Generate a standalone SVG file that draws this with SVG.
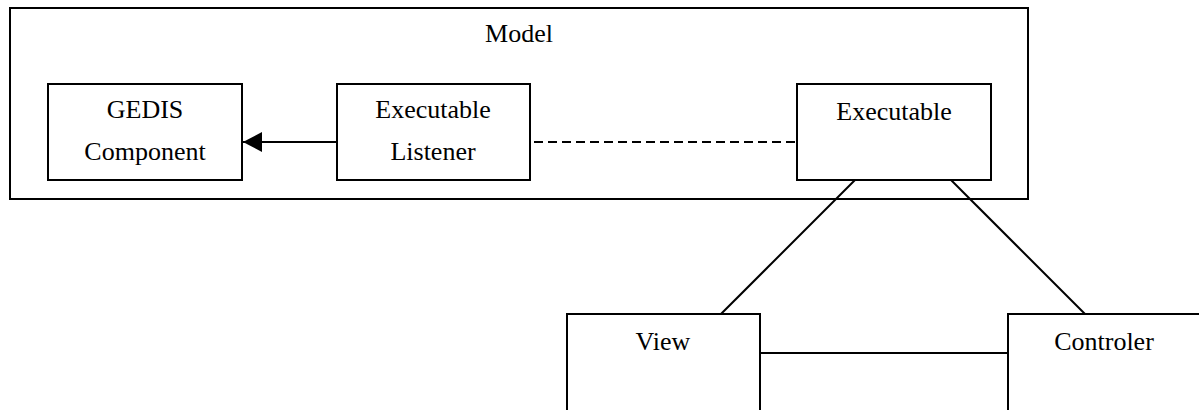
<svg xmlns="http://www.w3.org/2000/svg" width="1199" height="410" viewBox="0 0 1199 410">
  <style>
    .box { fill: #fff; stroke: #000; stroke-width: 2; }
    .frame { fill: none; stroke: #000; stroke-width: 2; }
    .lbl { font-family: "Liberation Serif", "Times New Roman", serif; font-size: 26px; fill: #000; text-anchor: middle; }
    .link { stroke: #000; stroke-width: 2; fill: none; }
    .dash { stroke-dasharray: 9 5; }
  </style>
  <defs>
    <marker id="arrow" markerWidth="20" markerHeight="20" refX="19" refY="10" orient="auto" markerUnits="userSpaceOnUse">
      <path d="M0,0 L19,10 L0,20 Z" fill="#000"/>
    </marker>
  </defs>

  <!-- Model package -->
  <g id="model">
    <rect class="frame" x="10" y="8" width="1018" height="191"/>
    <text class="lbl" x="519" y="42">Model</text>
  </g>

  <!-- connectors -->
  <g id="connectors">
    <line class="link" x1="337" y1="142" x2="243" y2="142" marker-end="url(#arrow)"/>
    <line class="link dash" x1="534" y1="142" x2="797" y2="142"/>
    <line class="link" x1="855" y1="180" x2="721" y2="314"/>
    <line class="link" x1="951" y1="180" x2="1085" y2="314"/>
    <line class="link" x1="760" y1="353" x2="1008" y2="353"/>
  </g>

  <g id="gedis-component">
    <rect class="box" x="48" y="84" width="194" height="96"/>
    <text class="lbl" x="145" y="118">GEDIS</text>
    <text class="lbl" x="145" y="160">Component</text>
  </g>

  <g id="executable-listener">
    <rect class="box" x="337" y="84" width="193" height="96"/>
    <text class="lbl" x="433" y="118">Executable</text>
    <text class="lbl" x="433" y="160">Listener</text>
  </g>

  <g id="executable">
    <rect class="box" x="797" y="84" width="194" height="96"/>
    <text class="lbl" x="894" y="120">Executable</text>
  </g>

  <g id="view">
    <rect class="box" x="567" y="314" width="193" height="110"/>
    <text class="lbl" x="663" y="350">View</text>
  </g>

  <g id="controler">
    <rect class="box" x="1008" y="314" width="193" height="110"/>
    <text class="lbl" x="1104" y="350">Controler</text>
  </g>
</svg>
